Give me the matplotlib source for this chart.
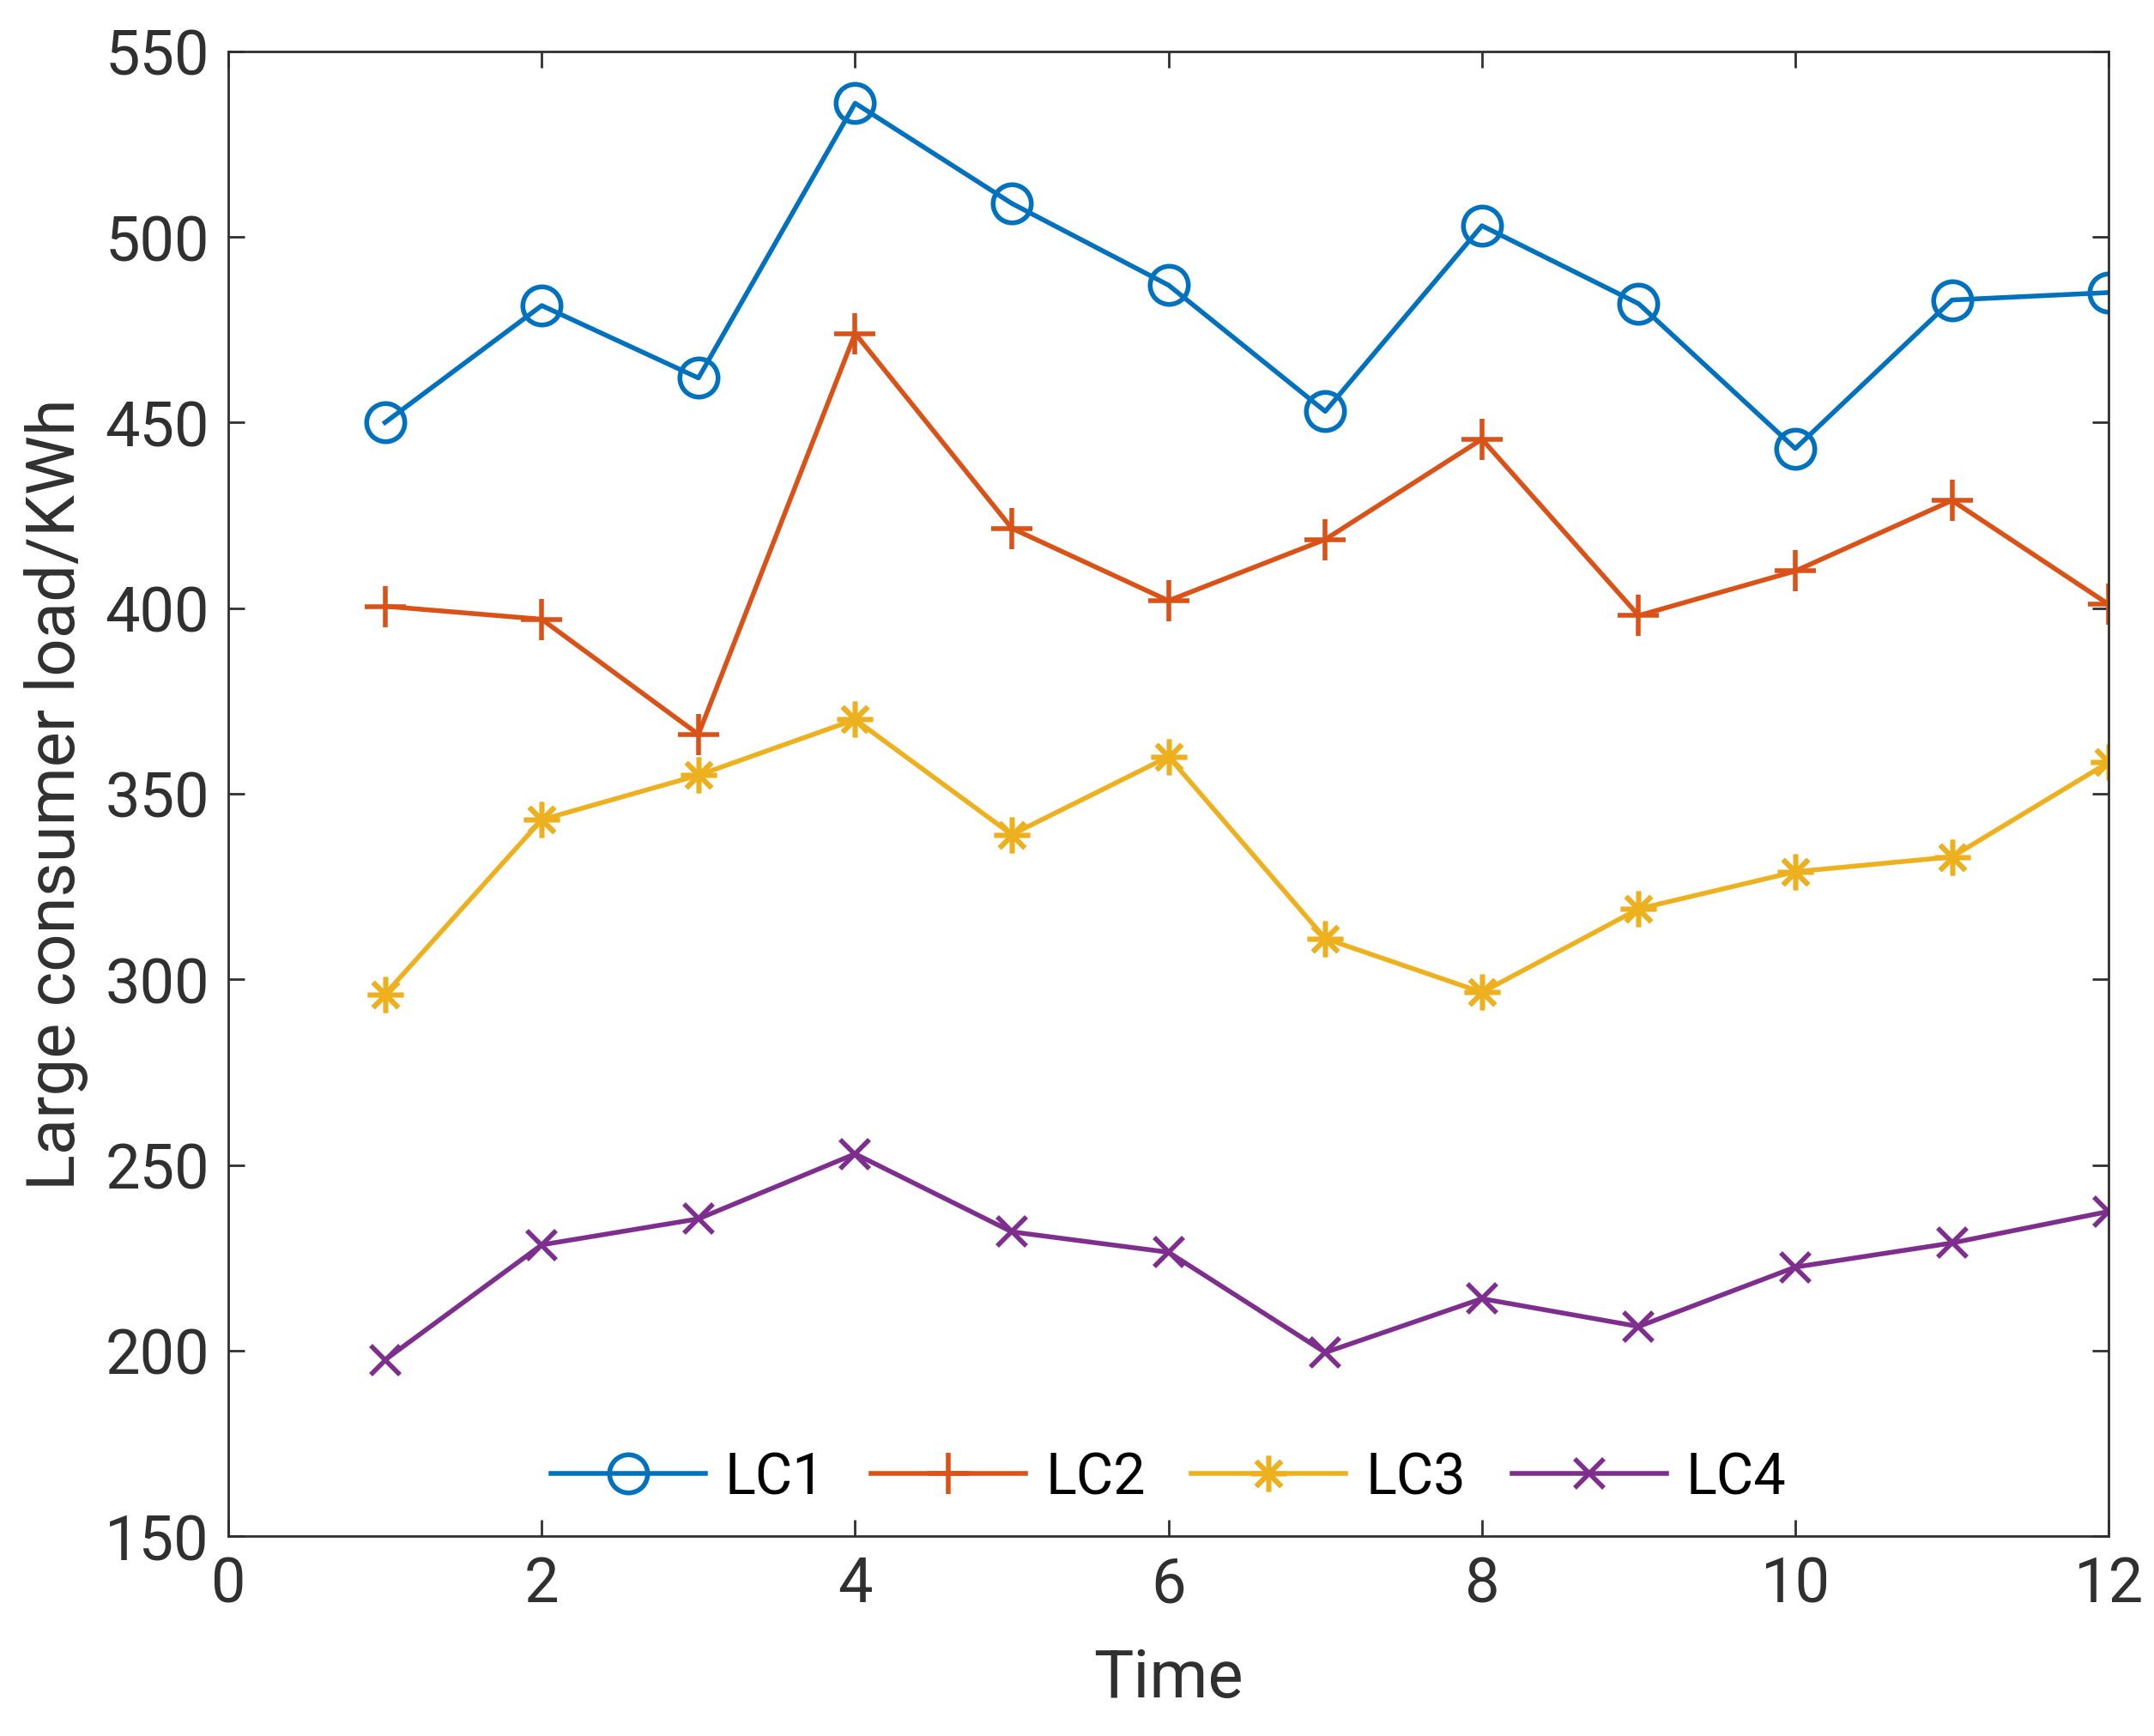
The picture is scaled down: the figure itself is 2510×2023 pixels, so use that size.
import numpy as np
import matplotlib
matplotlib.use('Agg')
import matplotlib.pyplot as plt

# Data
time = [1, 2, 3, 4, 5, 6, 7, 8, 9, 10, 11, 12]
lc1 = [450, 481.5, 462, 536, 509, 487, 453, 503, 482, 443, 483, 485]
lc2 = [400.5, 397, 366, 474, 421.5, 402, 418.5, 445.5, 398, 410, 429, 401]
lc3 = [296, 343, 355, 370, 339, 360, 311, 296.5, 319, 329, 333, 358.5]
lc4 = [197.5, 228.5, 235.5, 253, 232, 226.5, 199.5, 214, 206.5, 222.5, 229, 237.5]
names = ['LC1', 'LC2', 'LC3', 'LC4']

plt.rcParams['font.family'] = ['Roboto', 'DejaVu Sans']
grey = '#303030'

fig = plt.figure(figsize=(25.1, 20.24), dpi=100)
ax = fig.add_axes([0.106, 0.115, 0.873, 0.855])

ax.plot(time, lc1, color='#0072BD', lw=4, marker='o', ms=32, mfc='none', mew=4, label=names[0])
ax.plot(time, lc2, color='#D95319', lw=4, marker='+', ms=34, mew=4, label=names[1])
ax.plot(time, lc3, color='#EDB120', lw=4, marker=(8, 2, 0), ms=30, mew=4, label=names[2])
ax.plot(time, lc4, color='#7E2F8E', lw=4, marker='x', ms=24, mew=4, label=names[3])

ax.set_xlim(0, 12)
ax.set_ylim(150, 550)
ax.set_xticks(np.arange(0, 13, 2))
ax.set_yticks(np.arange(150, 551, 50))
ax.tick_params(direction='in', length=14, width=2, colors=grey, labelsize=52,
               top=True, right=True, pad=16)
for s in ax.spines.values():
    s.set_color(grey)
    s.set_linewidth(2)

ax.set_xlabel('Time', fontsize=56, color=grey, labelpad=26)
ax.set_ylabel('Large consumer load/KWh', fontsize=56, color=grey, labelpad=14)

ax.legend(loc='lower center', ncol=4, frameon=False, fontsize=48,
          handlelength=2.7, columnspacing=0.8, handletextpad=0.35,
          bbox_to_anchor=(0.5, -0.014))

fig.savefig('out.png', dpi=100)
